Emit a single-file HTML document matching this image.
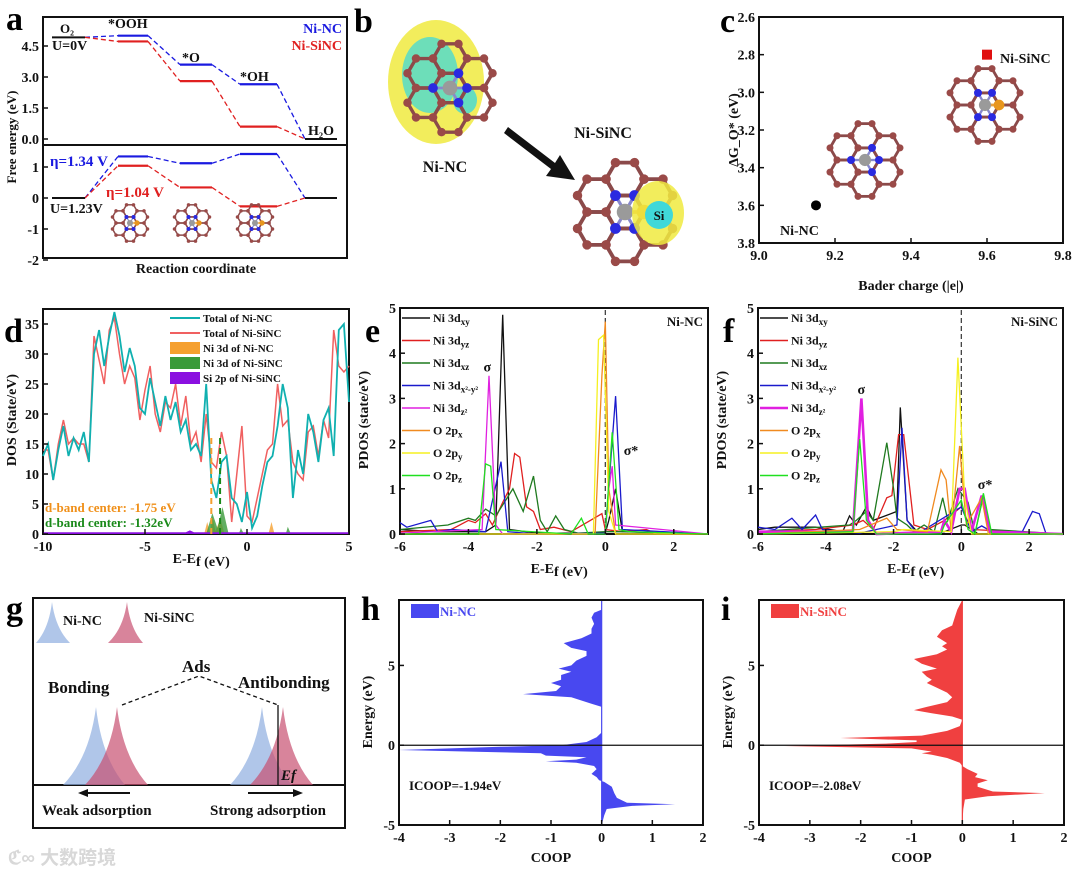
<!DOCTYPE html>
<html><head><meta charset="utf-8"><style>
html,body{margin:0;padding:0;background:#fff;}
svg{display:block;font-family:"Liberation Serif","Noto Serif CJK SC",serif;font-weight:bold;}
</style></head><body>
<svg id="fig" width="1080" height="875" viewBox="0 0 1080 875" xmlns="http://www.w3.org/2000/svg"></svg>
<script>
// ===== DATA =====
const aStepsX = [[52,85],[118,148],[180,212],[240,277],[305,337]];
const aTopNC = [4.92,5.0,3.6,2.65,0];
const aTopSi = [4.92,4.72,2.8,0.6,0];
const aBotNC = [0,1.34,1.12,1.42,0];
const aBotSi = [0,1.04,0.34,-0.27,0];
const aTopTicks = [0,1.5,3.0,4.5];
const aBotTicks = [1,0,-1,-2];

const cPoints = [[9.15,3.6],[9.6,2.8]];
const cXTicks = [9.0,9.2,9.4,9.6,9.8];
const cYTicks = [2.6,2.8,3.0,3.2,3.4,3.6,3.8];

const dX = [];
for (let i=0;i<=60;i++) dX.push(-10+i*0.25);
const dosNC = [13,15,9,14,18,13,16,14,17,12,30,34,28,33,37,33,27,31,28,21,20,26,22,18,23,19,22,17,19,14,15,13,25,9,6,12,13,6,5,2,7,1,3,8,12,13,18,25,21,6,14,10,20,17,12,19,21,13,34,35,22];
const dosSi = [14,14,9,15,19,15,16,15,15,12,33,29,25,34,36,30,25,28,26,19,24,28,20,17,22,21,25,18,23,15,17,12,20,12,11,17,13,2,10,18,3,2,6,10,14,15,25,18,19,12,10,9,17,18,13,19,16,34,28,27,28];
const dFillNC = [[-2.1,0],[-1.95,2],[-1.8,0],[-1.7,3],[-1.55,0.5],[-1.3,2.5],[-1.1,0],[1.05,0],[1.2,2],[1.35,0]];
const dFillSi = [[-2,0],[-1.7,3.5],[-1.45,1],[-1.2,4.5],[-0.9,0],[-0.4,0],[-0.3,1],[-0.15,0],[1.9,0],[2.0,1.2],[2.15,0]];
const dFillSiP = [[-10,0],[-10,0.3],[-3,0.3],[-2.8,0.6],[-2.6,0.3],[5,0.3],[5,0]];
const dBandCenters = [-1.75,-1.32];

const eSeries = [
 [[-6,0.1],[-5,0.05],[-3.5,0.05],[-3.2,0.2],[-3.0,4.85],[-2.8,0.1],[-2,0.02],[0,0.02],[0.1,0.3],[0.3,1.0],[0.5,0.05],[3,0]],
 [[-6,0.05],[-4.5,0.1],[-4,0.3],[-3.8,0.25],[-3.5,0.45],[-3.3,0.2],[-3.0,0.7],[-2.8,1.0],[-2.65,1.78],[-2.5,1.7],[-2.3,0.6],[-2.1,0.5],[-1.9,0.1],[-1.5,0.15],[-1,0.05],[-0.1,0.45],[0,0.1],[0.5,0.05],[1.2,0.1],[1.5,0],[3,0]],
 [[-6,0.1],[-4.6,0.2],[-4,0.35],[-3.8,0.3],[-3.5,0.55],[-3.2,0.4],[-2.7,1.0],[-2.4,0.5],[-2.1,1.28],[-1.9,0.3],[-1.7,0.05],[-1.45,0.4],[-1.2,0.1],[-0.8,0.02],[0,0.05],[0.7,0.05],[3,0]],
 [[-6,0.25],[-5.8,0.15],[-5.1,0.3],[-4.9,0.05],[-4.5,0.1],[-3.5,0.05],[-3.05,1.6],[-2.85,0.05],[-2,0],[0,0.02],[0.3,3.05],[0.5,0.1],[3,0]],
 [[-6,0.02],[-3.6,0.1],[-3.4,3.5],[-3.2,0.2],[-3,0],[0,0],[0.1,1.0],[0.2,1.5],[0.3,0.2],[3,0]],
 [[-6,0],[-0.3,0],[-0.1,3.5],[0,4.7],[0.1,1],[0.3,0],[3,0]],
 [[-6,0],[-0.35,0],[-0.2,4.3],[-0.05,4.4],[0.1,0.5],[0.3,0],[3,0]],
 [[-6,0],[-3.7,0],[-3.5,1.55],[-3.35,1.5],[-3.2,0.1],[-1,0],[-0.7,0.35],[-0.5,0],[0,0],[0.2,2.25],[0.4,0.1],[0.7,0.05],[3,0]]
];
const fSeries = [
 [[-6,0.1],[-5.5,0.15],[-4.3,0.15],[-3.5,0.05],[-3.3,0.4],[-3.1,0.2],[-2.8,0.6],[-2.6,0.3],[-1.9,0.5],[-1.8,2.8],[-1.6,0.3],[-1.3,0.05],[-0.5,0.05],[0,0.2],[0.1,0.2],[0.5,0],[3,0]],
 [[-6,0.05],[-4.3,0.1],[-3.2,0.2],[-2.9,0.3],[-2.6,0.1],[-2.2,0.8],[-2.05,0.85],[-1.85,2.2],[-1.7,2.2],[-1.4,0.2],[-1,0.1],[-0.5,0.3],[0,0.6],[0.3,0.1],[3,0]],
 [[-6,0.05],[-3.3,0.2],[-3.1,0.3],[-2.8,0.5],[-2.6,0.3],[-2.2,2.02],[-2.0,1.0],[-1.9,0.35],[-1.6,0.2],[-1.4,0.05],[-1.1,0.2],[-0.8,0.05],[-0.55,0.8],[-0.4,0.3],[-0.1,1.0],[0.2,0.7],[0.4,0],[0.65,0.85],[0.85,0.1],[3,0]],
 [[-6,0.15],[-5.5,0.1],[-5,0.35],[-4.7,0.1],[-4.3,0.42],[-4.1,0.1],[-3.5,0.05],[-3,0.02],[-1.9,0.2],[-1.75,2.35],[-1.6,0.3],[-1.3,0],[0,0.6],[0.3,0.05],[0.6,0.18],[0.9,0.05],[1.8,0.05],[2.1,0.5],[2.3,0.45],[2.5,0],[3,0]],
 [[-6,0.05],[-3.2,0.05],[-2.95,3.0],[-2.75,0.3],[-2.5,0],[-0.6,0.05],[-0.5,0.3],[-0.3,0.05],[-0.05,1.0],[0.1,1.0],[0.3,0.05],[0.6,0.85],[0.85,0.05],[3,0]],
 [[-6,0],[-3,0.1],[-2.2,0.35],[-1.9,0.1],[-1,0.05],[-0.6,1.42],[-0.45,1.2],[-0.3,0.05],[-0.05,1.95],[0.15,0.2],[0.6,0.8],[0.8,0],[3,0]],
 [[-6,0],[-2,0.05],[-1.7,0.1],[-0.3,0.05],[-0.1,3.9],[0.1,0.8],[0.3,0],[3,0]],
 [[-6,0],[-3.2,0.05],[-3.0,2.1],[-2.8,0.3],[-2.5,0],[-0.6,0],[-0.5,0.2],[0,0.75],[0.2,0.1],[0.4,0],[0.65,0.9],[0.9,0],[3,0]]
];
const pdosNames = ["Ni 3d|xy","Ni 3d|yz","Ni 3d|xz","Ni 3d|x²-y²","Ni 3d|z²","O 2p|x","O 2p|y","O 2p|z"];
const pdosColors = ["#111","#e02020","#1f7a1f","#1a1acc","#e020e0","#f08a20","#f5f020","#20e020"];
const pdosXTicks = [-6,-4,-2,0,2];
const pdosYTicks = [0,1,2,3,4,5];

const hCoop = [[-5,0],[-4.4,0.05],[-4.0,0.1],[-3.8,0.6],[-3.7,1.45],[-3.6,0.5],[-3.3,0.3],[-3.0,0.25],[-2.6,0.2],[-2.3,0.05],[-2.2,-0.05],[-2.0,-0.1],[-1.8,-0.2],[-1.5,-0.1],[-1.3,-0.15],[-1.1,-0.5],[-1.0,-1.1],[-0.9,-0.5],[-0.75,-0.3],[-0.65,-1.1],[-0.5,-1.2],[-0.3,-4],[-0.1,-2],[0,-0.8],[0.2,-0.3],[0.5,-0.1],[0.8,0],[2.4,0],[2.6,-0.2],[3.0,-0.6],[3.2,-1.55],[3.4,-0.9],[3.7,-0.8],[3.9,-1.0],[4.1,-0.8],[4.4,-0.8],[4.6,-0.6],[4.8,-0.85],[5.0,-0.6],[5.3,-0.5],[5.6,-0.3],[5.9,-0.3],[6.1,-0.6],[6.4,-0.75],[6.7,-0.4],[7,-0.2],[7.3,-0.2],[7.6,-0.15],[8.0,-0.2],[8.3,-0.15],[8.5,0],[9.1,0]];
const iCoop = [[-5,0],[-4,0.02],[-3.4,0.05],[-3.2,0.5],[-3.0,1.62],[-2.9,0.6],[-2.6,0.3],[-2.4,0.3],[-2.2,0.5],[-2.0,0.25],[-1.8,0.3],[-1.5,0.1],[-1.3,0],[-1.1,-0.05],[-0.8,-0.3],[-0.6,-0.6],[-0.5,-0.8],[-0.4,-0.6],[-0.2,-1.0],[-0.05,-3.5],[0.1,-1.5],[0.2,-0.9],[0.3,-0.9],[0.45,-2.4],[0.6,-0.8],[0.9,-0.3],[1.2,-0.05],[1.6,0],[1.8,-0.2],[2.0,-0.6],[2.2,-0.95],[2.4,-0.7],[2.7,-0.3],[3.0,-0.2],[3.3,-0.3],[3.6,-0.5],[3.9,-0.7],[4.1,-0.6],[4.3,-0.7],[4.6,-0.8],[4.8,-0.5],[5.1,-0.8],[5.4,-0.95],[5.7,-0.5],[6.0,-0.3],[6.2,-0.4],[6.4,-0.3],[6.8,-0.5],[7.2,-0.4],[7.5,-0.2],[8.0,-0.15],[8.5,-0.1],[9.1,0]];
const coopXTicks = [-4,-3,-2,-1,0,1,2];
const coopYTicks = [-5,0,5];

// ===== HELPERS =====
const NS = "http://www.w3.org/2000/svg";
const svg = document.getElementById('fig');
function mk(tag, attrs, name, parent) {
  const el = document.createElementNS(NS, tag);
  for (const k in attrs) el.setAttribute(k, attrs[k]);
  
  
  (parent || svg).appendChild(el);
  return el;
}
function lin(d0,d1,p0,p1){ return v => p0 + (v-d0)/(d1-d0)*(p1-p0); }
function line(x1,y1,x2,y2,stroke,w,name,dash){ const a={x1,y1,x2,y2,stroke,'stroke-width':w||1}; if(dash) a['stroke-dasharray']=dash; return mk('line',a,name); }
function txt(x,y,s,size,fill,anchor,name,extra){ const a={x,y,'font-size':size,fill:fill||'#111','text-anchor':anchor||'start'}; if(extra) for(const k in extra) a[k]=extra[k]; const t=mk('text',a,name); t.textContent=s; return t; }
function frame(x0,y0,x1,y1,name){ return mk('rect',{x:x0,y:y0,width:x1-x0,height:y1-y0,fill:'none',stroke:'#111','stroke-width':2},name); }
function yTicks(x0,ys,sy,fmt,name){ ys.forEach(v=>{ const y=sy(v); line(x0,y,x0+5,y,'#111',1.5,name+'-tick'); txt(x0-4,y+5,fmt(v),14,'#111','end',name+'-label'); }); }
function xTicks(y0,xs,sx,fmt,name){ xs.forEach(v=>{ const x=sx(v); line(x,y0,x,y0-5,'#111',1.5,name+'-tick'); txt(x,y0+17,fmt(v),14,'#111','middle',name+'-label'); }); }
function poly(pts,stroke,w,name,fill,op){ const a={points:pts.map(p=>p[0].toFixed(1)+','+p[1].toFixed(1)).join(' '),fill:fill||'none',stroke:stroke,'stroke-width':w}; if(op!==undefined) a['fill-opacity']=op; return mk('polyline',a,name); }
function panelLabel(x,y,s){ txt(x,y,s,34,'#000','start','panel-label-'+s); }
function rotText(x,y,s,size,name){ return txt(x,y,s,size,'#111','middle',name,{transform:`rotate(-90 ${x} ${y})`}); }

function molecule(cx,cy,r,si,name){
  const g=mk('g',{},name);
  const centers=[[0,0]];
  for(let k=0;k<6;k++){ const a=Math.PI/6+k*Math.PI/3; centers.push([Math.cos(a)*r*Math.sqrt(3),Math.sin(a)*r*Math.sqrt(3)]); }
  const verts=[];
  centers.forEach(c=>{ for(let k=0;k<6;k++){ const a=k*Math.PI/3, b=(k+1)*Math.PI/3;
    mk('line',{x1:cx+c[0]+r*Math.cos(a),y1:cy+c[1]+r*Math.sin(a),x2:cx+c[0]+r*Math.cos(b),y2:cy+c[1]+r*Math.sin(b),stroke:'#8b4a4a','stroke-width':Math.max(1.5,r/5)},'bond',g);
    verts.push([cx+c[0]+r*Math.cos(a),cy+c[1]+r*Math.sin(a)]); } });
  verts.forEach(v=>mk('circle',{cx:v[0],cy:v[1],r:Math.max(1.5,r/4),fill:'#9a4a48'},'carbon-atom',g));
  for(let k=0;k<6;k++){ const a=k*Math.PI/3; const vx=cx+r*Math.cos(a), vy=cy+r*Math.sin(a);
    if(k===0&&si){ mk('line',{x1:cx,y1:cy,x2:vx,y2:vy,stroke:'#e9a040','stroke-width':r/5},'si-bond',g); mk('circle',{cx:vx,cy:vy,r:r/2.6,fill:'#e8961e'},'si-atom',g); }
    else if(k!==3 || !si){ if(k%2===1||si||k===0){ mk('line',{x1:cx,y1:cy,x2:vx,y2:vy,stroke:'#8888cc','stroke-width':r/6},'n-bond',g); mk('circle',{cx:vx,cy:vy,r:r/3.5,fill:'#2a2ae0'},'n-atom',g);} } }
  mk('circle',{cx:cx,cy:cy,r:r/2.3,fill:'#9a9a9a'},'ni-atom',g);
  return g;
}

// ===== PANEL A =====
panelLabel(6,30,'a');
frame(43,17,347,258,'panel-a-frame');
line(43,145,347,145,'#111',2,'panel-a-divider');
const aYTop = lin(0,4.5,139,46), aYBot = lin(0,1,198,167);
yTicks(43,aTopTicks,aYTop,v=>v.toFixed(1),'a-top-ytick');
yTicks(43,aBotTicks,aYBot,v=>String(v),'a-bot-ytick');
function levels(vals,sy,color,name){
  for(let i=0;i<vals.length;i++){
    const [x0,x1]=aStepsX[i], y=sy(vals[i]);
    if(i!==0 && i!==vals.length-1) line(x0,y,x1,y,color,2.2,name+'-level');
    if(i<vals.length-1){ const [n0]=aStepsX[i+1]; line(x1,y,n0,sy(vals[i+1]),color,1.3,name+'-connector','5,3'); }
  }
}
levels(aTopNC,aYTop,'#1a1ae0','a-top-ninc');
levels(aTopSi,aYTop,'#e02020','a-top-sinc');
levels(aBotNC,aYBot,'#1a1ae0','a-bot-ninc');
levels(aBotSi,aYBot,'#e02020','a-bot-sinc');
line(52,aYTop(aTopNC[0]),85,aYTop(aTopNC[0]),'#111',2,'a-o2-level');
line(305,aYTop(0),337,aYTop(0),'#111',2,'a-h2o-level');
line(52,aYBot(0),85,aYBot(0),'#111',2,'a-u-level');
line(305,aYBot(0),337,aYBot(0),'#111',2,'a-end-level');
txt(60,33,'O₂',13,'#111','start','a-o2-label');
txt(52,50,'U=0V',14,'#111','start','a-u0-label');
txt(108,28,'*OOH',14,'#111','start','a-ooh-label');
txt(182,62,'*O',14,'#111','start','a-o-label');
txt(240,81,'*OH',14,'#111','start','a-oh-label');
txt(308,135,'H₂O',14,'#111','start','a-h2o-label');
txt(342,33,'Ni-NC',14,'#1a1ae0','end','a-legend-ninc');
txt(342,50,'Ni-SiNC',14,'#e02020','end','a-legend-sinc');
txt(50,166,'η=1.34 V',15,'#1a1ae0','start','a-eta-ninc');
txt(106,197,'η=1.04 V',15,'#e02020','start','a-eta-sinc');
txt(50,213,'U=1.23V',14,'#111','start','a-u123-label');
molecule(130,223,7,true,'a-molecule-1');
molecule(192,223,7,true,'a-molecule-2');
molecule(255,223,7,true,'a-molecule-3');
rotText(16,137,'Free energy (eV)',13,'a-y-title');
txt(196,273,'Reaction coordinate',14,'#111','middle','a-x-title');

// ===== PANEL B =====
panelLabel(354,32,'b');
const bg=mk('g',{},'b-charge-density-ninc');
mk('ellipse',{cx:436,cy:82,rx:48,ry:62,fill:'#f0ea40',opacity:0.85},'b-yellow-blob',bg);
mk('ellipse',{cx:430,cy:75,rx:28,ry:38,fill:'#40d8d8',opacity:0.75},'b-cyan-blob',bg);
mk('ellipse',{cx:465,cy:100,rx:12,ry:14,fill:'#40d8d8',opacity:0.8},'b-cyan-blob',bg);
molecule(450,88,17,false,'b-molecule-ninc');
txt(445,172,'Ni-NC',16,'#111','middle','b-ninc-label');
txt(603,138,'Ni-SiNC',16,'#111','middle','b-sinc-label');
mk('polygon',{points:'508,127 555,163 560,155 575,180 546,176 551,169 504,133',fill:'#111'},'b-arrow');
molecule(625,212,19,true,'b-molecule-sinc');
mk('ellipse',{cx:658,cy:213,rx:26,ry:32,fill:'#f0ea40',opacity:0.85},'b-si-yellow');
mk('circle',{cx:659,cy:215,r:14,fill:'#40d8d8'},'b-si-cyan');
txt(659,220,'Si',13,'#111','middle','b-si-label');

// ===== PANEL C =====
panelLabel(720,32,'c');
frame(759,17,1063,243,'panel-c-frame');
const cX=lin(9.0,9.8,759,1063), cY=lin(2.6,3.8,17,243);
xTicks(243,cXTicks,cX,v=>v.toFixed(1),'c-xtick');
yTicks(759,cYTicks,cY,v=>v.toFixed(1),'c-ytick');
mk('circle',{cx:cX(cPoints[0][0]),cy:cY(cPoints[0][1]),r:5,fill:'#000'},'c-point-ninc');
mk('rect',{x:cX(cPoints[1][0])-5,y:cY(cPoints[1][1])-5,width:10,height:10,fill:'#e01010'},'c-point-sinc');
txt(780,235,'Ni-NC',14,'#111','start','c-ninc-label');
txt(1000,63,'Ni-SiNC',14,'#111','start','c-sinc-label');
molecule(865,160,14,false,'c-molecule-ninc');
molecule(985,105,14,true,'c-molecule-sinc');
txt(911,290,'Bader charge (|e|)',14,'#111','middle','c-x-title');
rotText(738,130,'ΔG_O* (eV)',14,'c-y-title');

// ===== PANEL D =====
panelLabel(4,342,'d');
frame(43,309,349,534,'panel-d-frame');
const dXs=lin(-10,5,43,349), dYs=lin(0,35,534,324);
function fillPts(p){ return p.map(q=>[dXs(q[0]),dYs(q[1])]); }
mk('polygon',{points:fillPts(dFillNC).map(p=>p.join(',')).join(' '),fill:'#f5a030',opacity:0.8},'d-fill-ni3d-ninc');
mk('polygon',{points:fillPts(dFillSi).map(p=>p.join(',')).join(' '),fill:'#3a9a3a',opacity:0.8},'d-fill-ni3d-sinc');
mk('polygon',{points:fillPts(dFillSiP).map(p=>p.join(',')).join(' '),fill:'#8a10e0'},'d-fill-si2p');
poly(dX.map((x,i)=>[dXs(x),dYs(dosSi[i])]),'#f06060',1.5,'d-line-total-sinc');
poly(dX.map((x,i)=>[dXs(x),dYs(dosNC[i])]),'#10b0b0',1.8,'d-line-total-ninc');
line(dXs(dBandCenters[0]),dYs(16),dXs(dBandCenters[0]),534,'#f5a030',2,'d-band-center-ninc','6,4');
line(dXs(dBandCenters[1]),dYs(16),dXs(dBandCenters[1]),534,'#1a8a1a',2,'d-band-center-sinc','6,4');
xTicks(534,[-10,-5,0,5],dXs,v=>String(v),'d-xtick');
yTicks(43,[0,5,10,15,20,25,30,35],dYs,v=>String(v),'d-ytick');
txt(45,512,'d-band center: -1.75 eV',13,'#f0901a','start','d-band-text-ninc');
txt(45,527,'d-band center: -1.32eV',13,'#1a8a1a','start','d-band-text-sinc');
[['Total of Ni-NC','#10b0b0','l'],['Total of Ni-SiNC','#f06060','l'],['Ni 3d of Ni-NC','#f5a030','p'],['Ni 3d of Ni-SiNC','#3a9a3a','p'],['Si 2p of Ni-SiNC','#8a10e0','p']].forEach((e,i)=>{
  const y=318+i*15;
  if(e[2]==='l') line(170,y,200,y,e[1],2,'d-legend-swatch'); else mk('rect',{x:170,y:y-6,width:30,height:12,fill:e[1]},'d-legend-swatch');
  txt(203,y+4,e[0],11,'#111','start','d-legend-label');
});
txt(196,563,'E-E',14,'#111','end','d-x-title');
txt(196,563,'f (eV)',14,'#111','start','d-x-title-sub',{dy:3});
rotText(16,420,'DOS (State/eV)',14,'d-y-title');

// ===== PANELS E, F =====
function pdos(x0,x1,letter,series,tag,sig,sigs){
  panelLabel(x0-35,342,letter);
  frame(x0,308,x1,534,'panel-'+letter+'-frame');
  const sx=lin(-6,3,x0,x1), sy=lin(0,5,534,308);
  line(sx(0),310,sx(0),534,'#444',1.3,letter+'-fermi-line','5,3');
  series.forEach((s,i)=>poly(s.map(p=>[sx(p[0]),sy(p[1])]),pdosColors[i],(letter==='f'&&i===4)?2.6:1.3,letter+'-line-'+i));
  xTicks(534,pdosXTicks,sx,v=>String(v),letter+'-xtick');
  yTicks(x0,pdosYTicks,sy,v=>String(v),letter+'-ytick');
  pdosNames.forEach((n,i)=>{ const y=318+i*22.5; line(x0+2,y,x0+30,y,pdosColors[i],(letter==='f'&&i===4)?2.6:1.5,letter+'-legend-swatch');
    const parts=n.split('|'); const t=txt(x0+33,y+4,parts[0],12,'#111','start',letter+'-legend-label');
    const ts=document.createElementNS(NS,'tspan'); ts.setAttribute('font-size','9'); ts.setAttribute('dy','3'); ts.textContent=parts[1]; t.appendChild(ts); });
  txt(x1-5,326,tag,13,'#111','end',letter+'-tag');
  txt(sx(sig[0]),sy(sig[1]),'σ',14,'#111','middle',letter+'-sigma');
  txt(sx(sigs[0]),sy(sigs[1]),'σ*',14,'#111','middle',letter+'-sigma-star');
  txt((x0+x1)/2,573,'E-E',14,'#111','end',letter+'-x-title');
  txt((x0+x1)/2,573,'f (eV)',14,'#111','start',letter+'-x-title-sub',{dy:3});
  rotText(x0-32,420,'PDOS (state/eV)',14,letter+'-y-title');
}
pdos(400,708,'e',eSeries,'Ni-NC',[-3.45,3.6],[0.75,1.75]);
pdos(758,1063,'f',fSeries,'Ni-SiNC',[-2.95,3.1],[0.7,1.0]);

// ===== PANEL G =====
panelLabel(6,620,'g');
frame(33,598,345,828,'panel-g-frame');
line(33,785,345,785,'#111',2,'g-baseline');
function peak(x0,apx,x1,top,base,color,name){
  mk('path',{d:`M${x0},${base} Q${apx-(apx-x0)*0.2},${base-(base-top)*0.35} ${apx},${top} Q${apx+(x1-apx)*0.2},${base-(base-top)*0.35} ${x1},${base} Z`,fill:color,'fill-opacity':0.7},name);
}
peak(36,52,70,602,643,'#8faee0','g-legend-peak-ninc');
peak(108,127,143,602,643,'#c85070','g-legend-peak-sinc');
txt(63,625,'Ni-NC',14,'#111','start','g-legend-ninc');
txt(144,622,'Ni-SiNC',14,'#111','start','g-legend-sinc');
peak(63,96,125,707,785,'#8faee0','g-bonding-ninc');
peak(85,117,148,707,785,'#c85070','g-bonding-sinc');
peak(230,262,292,707,785,'#8faee0','g-antibonding-ninc');
peak(250,283,313,707,785,'#c85070','g-antibonding-sinc');
txt(48,693,'Bonding',17,'#111','start','g-bonding-label');
txt(182,672,'Ads',17,'#111','start','g-ads-label');
txt(238,688,'Antibonding',17,'#111','start','g-antibonding-label');
poly([[122,705],[199,676],[278,705]],'#111',1.3,'g-ads-dash').setAttribute('stroke-dasharray','4,3');
line(278,705,278,785,'#111',1.3,'g-ef-line');
txt(281,780,'Ef',15,'#111','start','g-ef-label',{'font-style':'italic'});
line(82,793,130,793,'#111',2,'g-weak-arrow');
mk('polygon',{points:'78,793 88,789 88,797',fill:'#111'},'g-weak-arrowhead');
line(248,793,298,793,'#111',2,'g-strong-arrow');
mk('polygon',{points:'303,793 293,789 293,797',fill:'#111'},'g-strong-arrowhead');
txt(42,815,'Weak adsorption',15,'#111','start','g-weak-label');
txt(210,815,'Strong adsorption',15,'#111','start','g-strong-label');
txt(8,864,'ℭ∞ 大数跨境',19,'#d8d8d8','start','watermark',{'font-family':'"Liberation Sans","Noto Sans CJK SC",sans-serif'});

// ===== PANELS H, I =====
function coop(x0,x1,letter,data,color,tag,icoop){
  panelLabel(x0-38,620,letter);
  const sx=lin(-4,2,x0,x1), sy=lin(-5,9.1,825,600);
  const pts=[[sx(0),sy(-5)]].concat(data.map(p=>[sx(p[1]),sy(p[0])])).concat([[sx(0),sy(9.1)]]);
  mk('polygon',{points:pts.map(p=>p[0].toFixed(1)+','+p[1].toFixed(1)).join(' '),fill:color},letter+'-coop-fill');
  line(sx(0),600,sx(0),825,color,1.2,letter+'-zero-coop');
  line(x0,sy(0),x1,sy(0),'#111',1.2,letter+'-fermi-line');
  frame(x0,600,x1,825,'panel-'+letter+'-frame');
  xTicks(825,coopXTicks,sx,v=>String(v),letter+'-xtick');
  yTicks(x0,coopYTicks,sy,v=>String(v),letter+'-ytick');
  mk('rect',{x:x0+12,y:604,width:28,height:14,fill:color},letter+'-legend-swatch');
  txt(x0+41,616,tag,13,color,'start',letter+'-legend-label');
  txt(x0+10,790,icoop,13,'#111','start',letter+'-icoop');
  txt((x0+x1)/2,862,'COOP',14,'#111','middle',letter+'-x-title');
  rotText(x0-27,712,'Energy (eV)',14,letter+'-y-title');
}
coop(399,703,'h',hCoop,'#4848f0','Ni-NC','ICOOP=-1.94eV');
coop(759,1064,'i',iCoop,'#f04040','Ni-SiNC','ICOOP=-2.08eV');
</script>
</body></html>
